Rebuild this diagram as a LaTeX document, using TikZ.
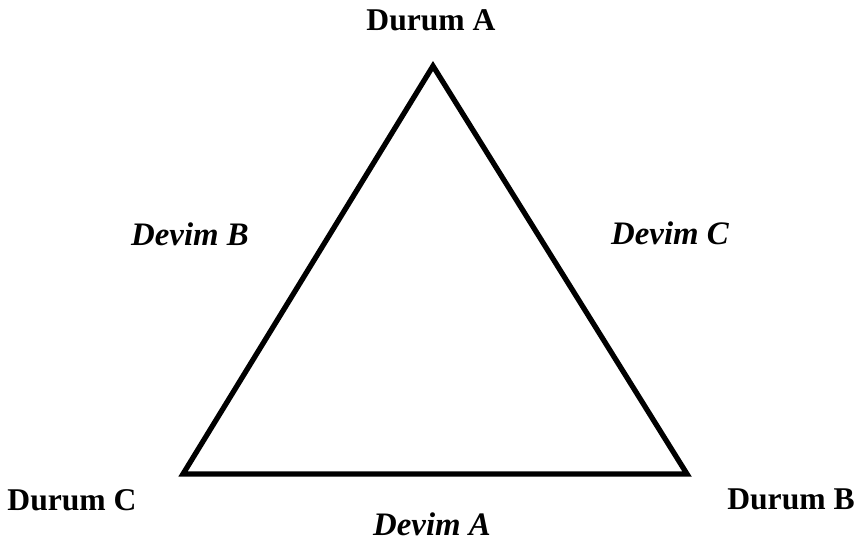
\documentclass[tikz,border=0pt]{standalone}
\usepackage{fontspec}
\setmainfont{Liberation Serif}
\tikzset{
  state/.style={font=\fontsize{27}{30}\selectfont\bfseries, anchor=base, inner sep=0pt},
  move/.style={font=\fontsize{28}{31}\selectfont\bfseries\itshape, anchor=base, inner sep=0pt},
  edge/.style={line width=4.5pt, line join=miter}
}
\begin{document}
\begin{tikzpicture}[x=0.03cm,y=-0.03cm]
\useasboundingbox (0,0) rectangle (859,541);
\coordinate (A) at (433,66);
\coordinate (C) at (183,474);
\coordinate (B) at (687,474);
\draw[edge] (A) -- (B) -- (C) -- cycle;
\node[state] (dA) at (431,31) {Durum A};
\node[state] (dC) at (72,510) {Durum C};
\node[state] (dB) at (791,509) {Durum B};
\node[move] (vB) at (190,246) {Devim B};
\node[move] (vC) at (670,245) {Devim C};
\node[move] (vA) at (432,535) {Devim A};
\end{tikzpicture}
\end{document}
